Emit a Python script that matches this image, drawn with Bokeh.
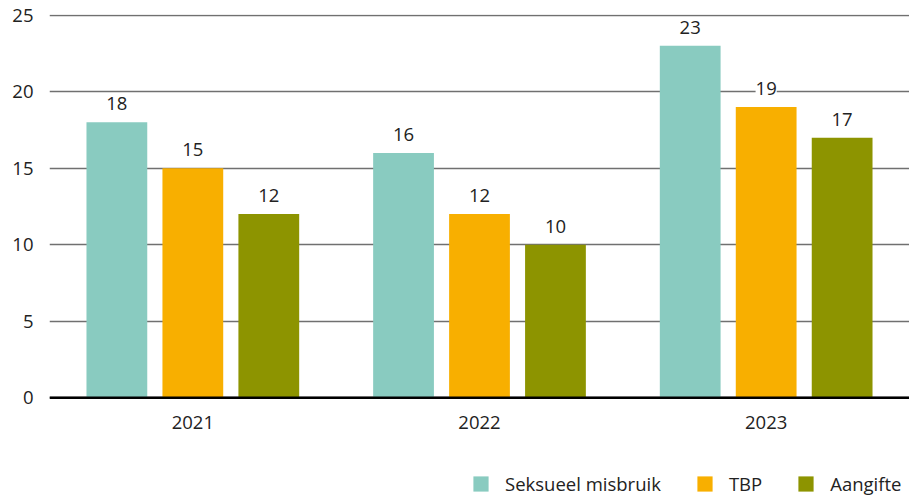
from bokeh.plotting import figure
from bokeh.models import ColumnDataSource, FactorRange, Range1d, Span, Legend, LegendItem, LabelSet, FixedTicker
from bokeh.core.properties import value
from bokeh.transform import dodge
from bokeh.embed import file_html
from bokeh.resources import INLINE

years = ["2021", "2022", "2023"]
seksueel = [18, 16, 23]
tbp = [15, 12, 19]
aangifte = [12, 10, 17]
series_names = ["Seksueel misbruik", "TBP", "Aangifte"]
colors = ["#89CBC0", "#F8AF00", "#8D9400"]
y_ticks = [0, 5, 10, 15, 20, 25]

FONT = "Open Sans"
FS = "18.5px"
TXT = "#222222"

source = ColumnDataSource(data=dict(
    year=years, s=seksueel, t=tbp, a=aangifte, base=[0] * len(years),
    s_lbl=[str(v) for v in seksueel], t_lbl=[str(v) for v in tbp], a_lbl=[str(v) for v in aangifte],
))

p = figure(x_range=FactorRange(*years, range_padding=0), y_range=Range1d(-6.46, 25.05),
           frame_width=860, frame_height=482, output_backend="svg", toolbar_location=None,
           min_border_left=49, min_border_right=0, min_border_top=14, min_border_bottom=0)
p.outline_line_color = None
p.xgrid.grid_line_color = None
p.ygrid.grid_line_color = "#707070"
p.ygrid.grid_line_width = 1.4

offsets = [-0.265, 0.0, 0.265]
cols = ["s", "t", "a"]
renderers = []
for off, c, col in zip(offsets, cols, colors):
    r = p.vbar(x=dodge("year", off, range=p.x_range), top=c, width=0.212, source=source,
               fill_color=col, line_color=None)
    renderers.append(r)
    lbl = LabelSet(x=dodge("year", off, range=p.x_range), y=c, text=c + "_lbl", source=source,
                   text_align="center", text_baseline="bottom", y_offset=12,
                   text_font=value(FONT), text_font_size=value(FS), text_color=TXT,
                   background_fill_color="white", background_fill_alpha=1.0)
    p.add_layout(lbl)

p.add_layout(Span(location=0, dimension="width", line_color="#000000", line_width=2.4))

# category labels under the baseline
year_lbl = LabelSet(x="year", y="base", text="year", source=source,
                    text_align="center", text_baseline="middle", y_offset=-25,
                    text_font=value(FONT), text_font_size=value(FS), text_color=TXT)
p.add_layout(year_lbl)
p.xaxis.visible = False

p.yaxis.ticker = FixedTicker(ticks=y_ticks)
p.yaxis.axis_line_color = None
p.yaxis.major_tick_line_color = None
p.yaxis.minor_tick_line_color = None
p.yaxis.major_label_standoff = 10
p.yaxis.major_label_text_font = FONT
p.yaxis.major_label_text_font_size = FS
p.yaxis.major_label_text_color = TXT

legend = Legend(items=[LegendItem(label=n, renderers=[r]) for n, r in zip(series_names, renderers)],
                orientation="horizontal", location=(422, 0),
                label_text_font=FONT, label_text_font_size=FS, label_text_color=TXT,
                glyph_width=19, glyph_height=19, label_standoff=15, spacing=34,
                border_line_color=None, background_fill_alpha=0, padding=0, margin=0)
p.add_layout(legend)

open("out.html", "w").write(file_html(p, INLINE))
